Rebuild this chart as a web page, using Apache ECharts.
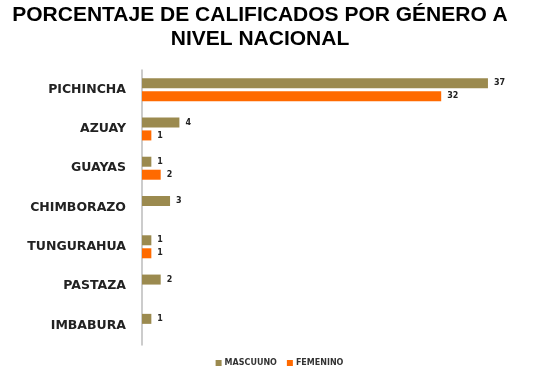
<!DOCTYPE html>
<html><head><meta charset="utf-8">
<script src="https://cdn.jsdelivr.net/npm/echarts@6/dist/echarts.min.js"></script>
<style>html,body{margin:0;padding:0;background:#fff}#c{width:559px;height:385px}</style>
</head><body><div id="c"></div>
<script>
const categories = ['PICHINCHA','AZUAY','GUAYAS','CHIMBORAZO','TUNGURAHUA','PASTAZA','IMBABURA'];
const masculino = [37, 4, 1, 3, 1, 2, 1];
const femenino = [32, 1, 2, null, 1, null, null];
const seriesNames = ['MASCUUNO', 'FEMENINO'];
const titleText = 'PORCENTAJE DE CALIFICADOS POR GÉNERO A\nNIVEL NACIONAL';

const chart = echarts.init(document.getElementById('c'));
const labelStyle = {show: true, position: 'right', distance: 6, fontSize: 8, fontWeight: 'bold', color: '#222', fontFamily: 'DejaVu Sans'};
chart.setOption({
  animation: false,
  title: {
    text: titleText, left: 255, textAlign: 'center', top: -2,
    textStyle: {fontFamily: 'Liberation Sans', fontWeight: 'bold', fontSize: 21, color: '#000', lineHeight: 24}
  },
  legend: {
    data: seriesNames, bottom: 13, left: 'center', itemWidth: 6, itemHeight: 6, itemGap: 10,
    padding: [5, 12, 5, 0],
    icon: 'rect',
    textStyle: {fontSize: 8, fontWeight: 'bold', color: '#333', fontFamily: 'DejaVu Sans', padding: [0,0,0,-2]}
  },
  grid: {left: 142, top: 70, width: 374, height: 275, containLabel: false},
  xAxis: {type: 'value', min: 0, max: 40, show: false},
  yAxis: {
    type: 'category', data: categories, inverse: true,
    axisLine: {lineStyle: {color: '#bbb', width: 1.5}},
    axisTick: {show: false},
    axisLabel: {margin: 16, fontFamily: 'DejaVu Sans', fontWeight: 'bold', fontSize: 12.5, color: '#222'}
  },
  series: [
    {name: seriesNames[0], type: 'bar', data: masculino, barWidth: 10, barGap: '30%',
     itemStyle: {color: '#9b8a4f'}, label: labelStyle},
    {name: seriesNames[1], type: 'bar', data: femenino, barWidth: 10,
     itemStyle: {color: '#ff6a00'}, label: labelStyle}
  ]
});
</script></body></html>
